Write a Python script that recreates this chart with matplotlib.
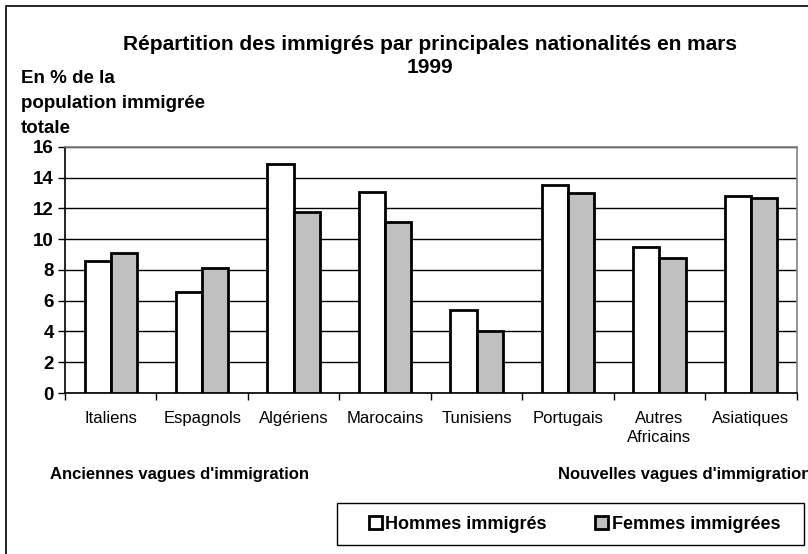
import numpy as np
import matplotlib.pyplot as plt
from matplotlib.patches import Rectangle

plt.rcParams['font.family'] = ['Liberation Sans', 'DejaVu Sans']

categories = ["Italiens", "Espagnols", "Algériens", "Marocains", "Tunisiens",
              "Portugais", "Autres\nAfricains", "Asiatiques"]
hommes = [8.6, 6.6, 14.9, 13.1, 5.4, 13.5, 9.5, 12.8]
femmes = [9.1, 8.1, 11.8, 11.1, 4.0, 13.0, 8.8, 12.7]
yticks = [0, 2, 4, 6, 8, 10, 12, 14, 16]

fig = plt.figure(figsize=(8.08, 5.54), dpi=100)
ax = fig.add_axes([0.0804, 0.2906, 0.9056, 0.4441])

x = np.arange(len(categories))
w = 1 / 3.5
ax.bar(x - w / 2, hommes, w, color='white', edgecolor='black', linewidth=2,
       label='Hommes immigrés', zorder=3)
ax.bar(x + w / 2, femmes, w, color='#c0c0c0', edgecolor='black', linewidth=2,
       label='Femmes immigrées', zorder=3)

ax.set_xlim(-0.5, len(categories) - 0.5)
ax.set_ylim(0, 16)
ax.set_yticks(yticks)
ax.set_yticklabels([str(v) for v in yticks], fontsize=13.5, fontweight='bold')
ax.yaxis.grid(True, color='black', linewidth=1, zorder=0)
ax.set_axisbelow(True)

ax.set_xticks(x)
ax.set_xticklabels(categories, fontsize=12, linespacing=1.3)
ax.tick_params(axis='x', length=0, pad=13)
ax.set_xticks(np.arange(-0.5, len(categories)), minor=True)
ax.tick_params(axis='x', which='minor', length=5, width=1, direction='out')
ax.tick_params(axis='y', length=5, width=1, direction='out', pad=3)

ax.spines['top'].set_color('#808080')
ax.spines['right'].set_color('#808080')
ax.spines['left'].set_color('black')
ax.spines['bottom'].set_color('black')
for s in ax.spines.values():
    s.set_linewidth(1.2)

fig.text(0.532, 0.899, "Répartition des immigrés par principales nationalités en mars\n1999",
         ha='center', va='center', fontsize=15, fontweight='bold', linespacing=1.32)
fig.text(0.026, 0.813, "En % de la\npopulation immigrée\ntotale", ha='left', va='center',
         fontsize=13.5, fontweight='bold', linespacing=1.62)

fig.text(0.062, 0.144, "Anciennes vagues d'immigration", ha='left', va='center',
         fontsize=12, fontweight='bold')
fig.text(0.69, 0.144, "Nouvelles vagues d'immigration", ha='left', va='center',
         fontsize=12, fontweight='bold')

# legend entries without frame, box drawn separately
leg = fig.legend(loc='center', bbox_to_anchor=(0.711, 0.054), ncol=2,
                 prop={'weight': 'bold', 'size': 13}, frameon=False,
                 handlelength=0.7, handleheight=0.7,
                 handletextpad=0.2, columnspacing=2.7, borderpad=0)
fig.patches.append(Rectangle((337 / 808, 9 / 554), 467 / 808, 42 / 554,
                             transform=fig.transFigure, fill=False,
                             edgecolor='black', linewidth=1))

fig.patches.append(Rectangle((0.007, -0.1), 1.2, 1.089, transform=fig.transFigure,
                             fill=False, edgecolor='black', linewidth=1.2))

fig.savefig("out.png", dpi=100)
